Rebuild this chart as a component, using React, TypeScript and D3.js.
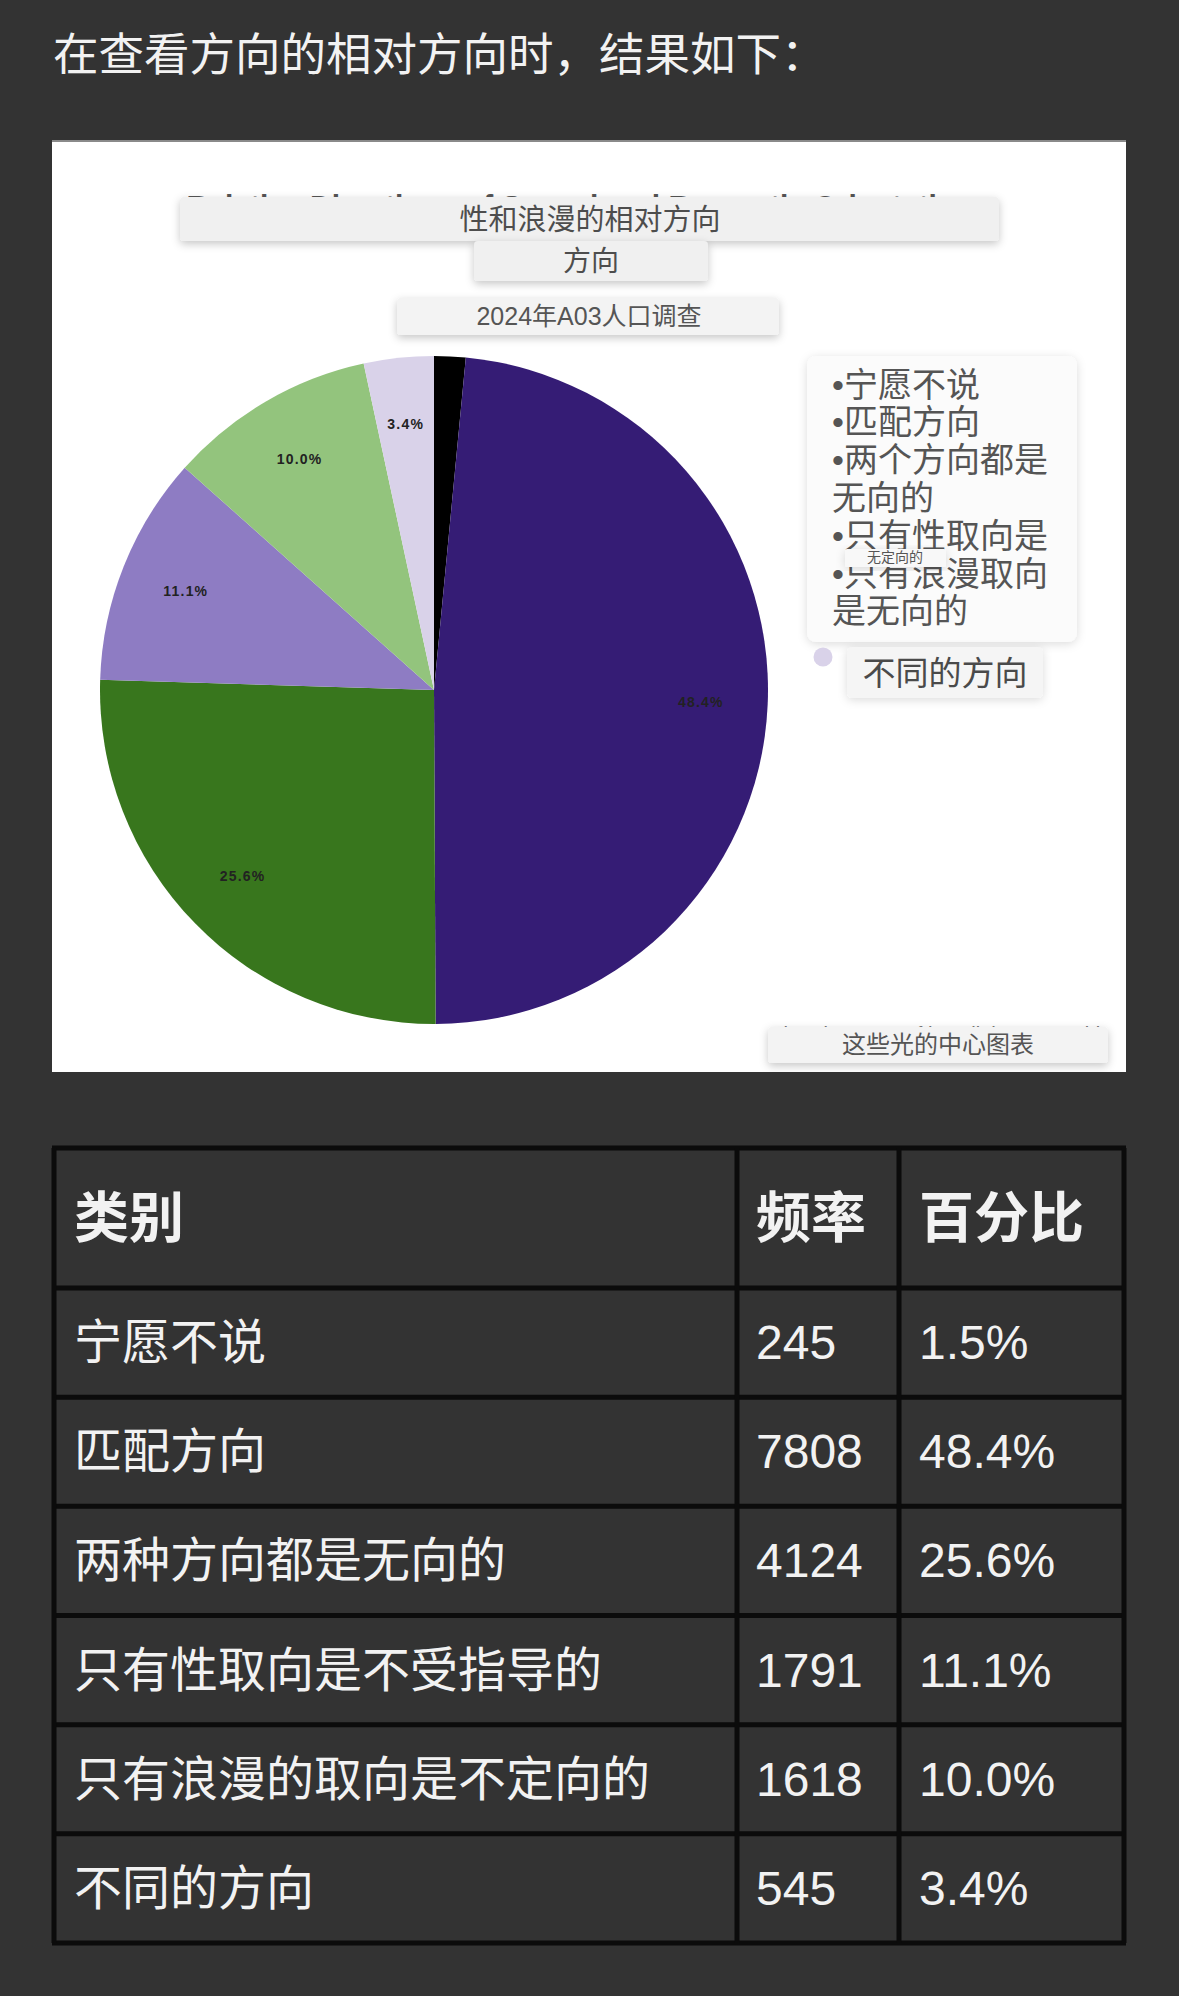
import React from "react"
import * as d3 from "d3"

// table rows
const categories = ["宁愿不说", "匹配方向", "两种方向都是无向的", "只有性取向是不受指导的", "只有浪漫的取向是不定向的", "不同的方向"]
const frequency = [245, 7808, 4124, 1791, 1618, 545]
const percents = ["1.5%", "48.4%", "25.6%", "11.1%", "10.0%", "3.4%"]
const headers = ["类别", "频率", "百分比"]

// pie
const sliceColors = ["#000000", "#351c75", "#38761d", "#8e7cc3", "#93c47d", "#d9d2e9"]
const legendLines = ["•宁愿不说", "•匹配方向", "•两个方向都是", "无向的", "•只有性取向是", "•只有浪漫取向", "是无向的"]

const W = 1179
const H = 1996
const CJK = "'Liberation Sans', 'Noto Sans CJK SC', sans-serif"

export default function App() {
    const cx = 434
    const cy = 690
    const R = 334

    const pie = d3.pie<number>().sort(null).startAngle(0).endAngle(2 * Math.PI)
    const arcs = pie(frequency)
    const arc = d3.arc<d3.PieArcDatum<number>>().innerRadius(0).outerRadius(R)
    const labelArc = d3.arc<d3.PieArcDatum<number>>().innerRadius(R * 0.8).outerRadius(R * 0.8)

    // table geometry
    const tLeft = 54
    const tRight = 1124
    const tTop = 1148
    const headBottom = 1288
    const tBottom = 1943
    const rowScale = d3.scaleBand<number>().domain(d3.range(categories.length)).range([headBottom, tBottom])
    const colEdges = [tLeft, 737, 899, tRight]
    const textX = [74, 756, 919]

    const legendY = d3.scaleLinear().domain([0, 1]).range([384.5, 422.3])

    return (
        <svg width={W} height={H} style={{ position: "absolute", left: 0, top: 0 }} fontFamily={CJK}>
            <defs>
                <filter id="shadow" x="-20%" y="-40%" width="140%" height="200%">
                    <feDropShadow dx="0" dy="3" stdDeviation="4" floodColor="#000" floodOpacity="0.22" />
                </filter>
                <filter id="softshadow" x="-20%" y="-20%" width="140%" height="140%">
                    <feDropShadow dx="0" dy="2" stdDeviation="5" floodColor="#000" floodOpacity="0.14" />
                </filter>
            </defs>
            <rect width={W} height={H} fill="#333333" />

            <text x={53} y={55} fill="#f2f2f2" fontSize={45.5} dominantBaseline="central">
                在查看方向的相对方向时，结果如下：
            </text>

            {/* chart panel */}
            <rect x={52} y={140} width={1074} height={932} fill="#ffffff" />
            <line x1={52} x2={1126} y1={141} y2={141} stroke="#8a8a8a" strokeWidth={2} />

            {/* titles half hidden behind overlays */}
            <text x={580} y={216} textAnchor="middle" fill="#555" fontSize={30} fontWeight="bold" fontFamily="'Liberation Sans', sans-serif">
                Relative Directions of Sexual and Romantic Orientation
            </text>
            <text x={590} y={311} textAnchor="middle" fill="#666" fontSize={18} fontFamily="'Liberation Sans', sans-serif">
                AO3 Demographic and Fandom Survey 2024
            </text>
            <text x={938} y={1041} textAnchor="middle" fill="#777" fontSize={20} fontFamily="'Liberation Sans', sans-serif">
                Chart by centreoftheselights on tumblr
            </text>

            <rect x={180} y={197} width={819} height={44} rx={4} fill="#f0f0f0" filter="url(#shadow)" />
            <text x={590} y={220} textAnchor="middle" dominantBaseline="central" fill="#4d4d4d" fontSize={29}>
                性和浪漫的相对方向
            </text>
            <rect x={474} y={241} width={234} height={40} rx={4} fill="#f0f0f0" filter="url(#shadow)" />
            <text x={591} y={261} textAnchor="middle" dominantBaseline="central" fill="#4d4d4d" fontSize={28}>
                方向
            </text>
            <rect x={397} y={298} width={382} height={37} rx={4} fill="#f3f3f3" filter="url(#shadow)" />
            <text x={589} y={316} textAnchor="middle" dominantBaseline="central" fill="#555" fontSize={25}>
                2024年A03人口调查
            </text>

            {/* pie */}
            <g transform={`translate(${cx},${cy})`}>
                {arcs.map((d, i) => (
                    <path key={i} d={arc(d) || ""} fill={sliceColors[i]} />
                ))}
                {arcs.map((d, i) => {
                    if (i === 0) return null
                    const [lx, ly] = labelArc.centroid(d)
                    return (
                        <text key={"l" + i} x={lx} y={ly} textAnchor="middle" dominantBaseline="central"
                            fontSize={14} fontWeight="bold" letterSpacing={1.2} fill="#222"
                            fontFamily="'Liberation Sans', sans-serif">
                            {percents[i]}
                        </text>
                    )
                })}
            </g>

            {/* legend overlay */}
            <rect x={807} y={356} width={270} height={286} rx={9} fill="#fbfbfb" filter="url(#softshadow)" />
            {legendLines.map((t, i) => (
                <text key={t} x={832} y={legendY(i)} dominantBaseline="central" fill="#555" fontSize={34}>
                    {t}
                </text>
            ))}
            <rect x={845} y={549} width={101} height={18} rx={2} fill="#f8f8f8" filter="url(#softshadow)" />
            <text x={895} y={557} textAnchor="middle" dominantBaseline="central" fill="#555" fontSize={14}>
                无定向的
            </text>
            <circle cx={823} cy={657} r={9.5} fill={sliceColors[5]} />
            <rect x={847} y={647} width={196} height={51} rx={5} fill="#f5f5f5" filter="url(#softshadow)" />
            <text x={945} y={673} textAnchor="middle" dominantBaseline="central" fill="#4a4a4a" fontSize={33}>
                不同的方向
            </text>

            <rect x={768} y={1027} width={340} height={36} rx={4} fill="#f3f3f3" filter="url(#shadow)" />
            <text x={938} y={1044} textAnchor="middle" dominantBaseline="central" fill="#555" fontSize={24}>
                这些光的中心图表
            </text>

            {/* table */}
            <rect x={tLeft} y={tTop} width={tRight - tLeft} height={tBottom - tTop} fill="#333333" />
            {headers.map((h, j) => (
                <text key={h} x={textX[j]} y={(tTop + headBottom) / 2} dominantBaseline="central"
                    fill="#f2f2f2" fontSize={55} fontWeight="bold">
                    {h}
                </text>
            ))}
            {categories.map((c, i) => {
                const y = (rowScale(i) || 0) + rowScale.bandwidth() / 2
                return (
                    <g key={c}>
                        <text x={textX[0]} y={y} dominantBaseline="central" fill="#f2f2f2" fontSize={48}>{c}</text>
                        <text x={textX[1]} y={y} dominantBaseline="central" fill="#f2f2f2" fontSize={48}>{frequency[i]}</text>
                        <text x={textX[2]} y={y} dominantBaseline="central" fill="#f2f2f2" fontSize={48}>{percents[i]}</text>
                    </g>
                )
            })}
            {[tTop, headBottom, ...categories.map((_, i) => (rowScale(i) || 0) + rowScale.bandwidth())].map((y, i) => (
                <line key={"h" + i} x1={tLeft - 2} x2={tRight + 2} y1={y} y2={y} stroke="#0b0b0b" strokeWidth={5} />
            ))}
            {colEdges.map((x, i) => (
                <line key={"v" + i} x1={x} x2={x} y1={tTop} y2={tBottom} stroke="#0b0b0b" strokeWidth={5} />
            ))}
        </svg>
    )
}
